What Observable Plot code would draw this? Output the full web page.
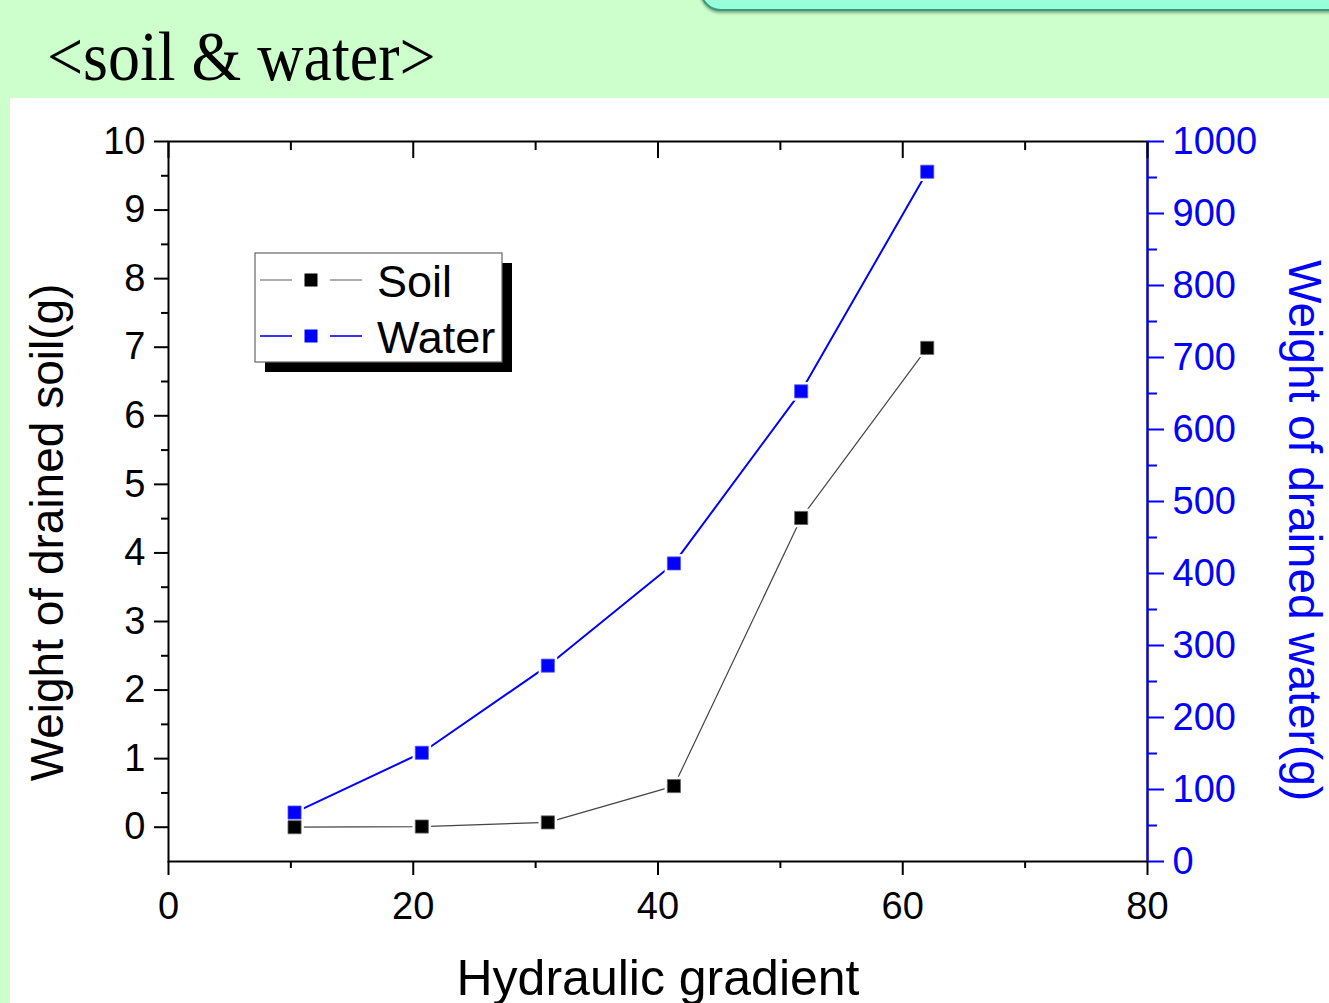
<!DOCTYPE html>
<html>
<head>
<meta charset="utf-8">
<script src="https://cdn.jsdelivr.net/npm/d3@7"></script>
<script src="https://cdn.jsdelivr.net/npm/@observablehq/plot@0.6"></script>
<style>
  html, body { margin: 0; padding: 0; }
  body { width: 1329px; height: 1003px; overflow: hidden; position: relative; background: #ccffcc; font-family: "Liberation Sans", Arial, sans-serif; }
  #tab { position: absolute; left: 700px; top: -30px; width: 660px; height: 37px; background: #99ffd9; border: 2px solid #2f9f80; border-radius: 24px; box-shadow: 0 2px 3px rgba(0,0,0,0.35); }
  #title { position: absolute; left: 47px; top: 28px; font-family: "Liberation Serif", "Times New Roman", serif; font-size: 64px; line-height: 64px; color: #000; white-space: nowrap; transform: scaleY(1.08); transform-origin: left bottom; }
  #panel { position: absolute; left: 10px; top: 98px; width: 1319px; height: 905px; background: #fff; }
  #legend { position: absolute; left: 0; top: 0; }
</style>
</head>
<body>
<div id="tab"></div>
<div id="title">&lt;soil &amp; water&gt;</div>
<div id="panel"></div>
<svg id="legend" width="600" height="420"></svg>
<script>
// ---- data ----
const gradient = [10.3, 20.7, 31.0, 41.3, 51.7, 62.0];
const soilWeight = [0.0, 0.01, 0.07, 0.6, 4.51, 6.99];
const waterWeight = [68, 151, 272, 414, 653, 958];

const seriesNames = ["Soil", "Water"];
const seriesColors = ["#000000", "#0000ff"];
const lineColors = ["#444444", "#0000ff"];

const xTicksMajor = [0, 20, 40, 60, 80];
const xTicksMinor = [10, 30, 50, 70];
const soilTicksMajor = [0, 1, 2, 3, 4, 5, 6, 7, 8, 9, 10];
const soilTicksMinor = [0.5, 1.5, 2.5, 3.5, 4.5, 5.5, 6.5, 7.5, 8.5, 9.5];
const waterTicksMajor = [0, 100, 200, 300, 400, 500, 600, 700, 800, 900, 1000];
const waterTicksMinor = [50, 150, 250, 350, 450, 550, 650, 750, 850, 950];

const xLabel = "Hydraulic gradient";
const yLeftLabel = "Weight of drained soil(g)";
const yRightLabel = "Weight of drained water(g)";

// ---- build ----
const soilDomain = [-0.5, 10];
const waterDomain = [0, 1000];
// map water values onto the left (soil) scale
const toLeft = d3.scaleLinear().domain(waterDomain).range(soilDomain);

const soilData = gradient.map((g, i) => ({x: g, y: soilWeight[i], series: "Soil"}));
const waterData = gradient.map((g, i) => ({x: g, y: toLeft(waterWeight[i]), series: "Water"}));
const allData = soilData.concat(waterData);

const waterLabelMap = new Map(waterTicksMajor.map(w => [toLeft(w), String(w)]));

const chart = Plot.plot({
  width: 1319,
  height: 905,
  marginLeft: 158,
  marginRight: 182,
  marginTop: 43,
  marginBottom: 142,
  style: {background: "transparent", fontFamily: "'Liberation Sans', Arial, sans-serif", color: "#000", overflow: "visible"},
  x: {domain: [0, 80]},
  y: {domain: soilDomain},
  marks: [
    Plot.frame({stroke: "#000", strokeWidth: 2}),
    Plot.ruleX([80], {stroke: "#0000ff", strokeWidth: 2}),
    // bottom axis
    Plot.axisX({anchor: "bottom", ticks: xTicksMajor, tickSize: 14, tickPadding: 17, fontSize: 38, strokeWidth: 2, label: null, tickFormat: d => String(d)}),
    Plot.axisX({anchor: "bottom", ticks: xTicksMinor, tickSize: 7, strokeWidth: 2, label: null, tickFormat: () => ""}),
    // top axis (inward ticks)
    Plot.axisX({anchor: "top", ticks: xTicksMajor, tickSize: -16, strokeWidth: 2, label: null, tickFormat: () => ""}),
    Plot.axisX({anchor: "top", ticks: xTicksMinor, tickSize: -8, strokeWidth: 2, label: null, tickFormat: () => ""}),
    // left axis
    Plot.axisY({anchor: "left", ticks: soilTicksMajor, tickSize: 14, tickPadding: 9, fontSize: 38, strokeWidth: 2, label: null, tickFormat: d => String(d)}),
    Plot.axisY({anchor: "left", ticks: soilTicksMinor, tickSize: 7, strokeWidth: 2, label: null, tickFormat: () => ""}),
    // right axis (water)
    Plot.axisY({anchor: "right", ticks: waterTicksMajor.map(toLeft), tickSize: 16, tickPadding: 9, fontSize: 38, strokeWidth: 2, color: "#0000ff", label: null, tickFormat: d => waterLabelMap.get(d) ?? ""}),
    Plot.axisY({anchor: "right", ticks: waterTicksMinor.map(toLeft), tickSize: 9, strokeWidth: 2, color: "#0000ff", label: null, tickFormat: () => ""}),
    // axis titles
    Plot.text([yLeftLabel], {frameAnchor: "left", rotate: -90, dx: -120, dy: 31, fontSize: 46, fill: "#000", textAnchor: "middle", lineAnchor: "middle"}),
    Plot.text([yRightLabel], {frameAnchor: "right", rotate: 90, dx: 156, dy: 29, fontSize: 46, fill: "#0000ff", textAnchor: "middle", lineAnchor: "middle"}),
    Plot.text([xLabel], {frameAnchor: "bottom", dy: 117, fontSize: 50, fill: "#000", textAnchor: "middle", lineAnchor: "middle"}),
    // lines
    Plot.line(soilData, {x: "x", y: "y", stroke: lineColors[0], strokeWidth: 1.2}),
    Plot.line(waterData, {x: "x", y: "y", stroke: lineColors[1], strokeWidth: 2}),
    // white halos to create the gap between markers and lines
    Plot.dot(allData, {x: "x", y: "y", symbol: "square", r: 10.5, fill: "#fff", stroke: "none"}),
    // markers
    Plot.dot(soilData, {x: "x", y: "y", symbol: "square", r: 7.4, fill: seriesColors[0], stroke: "#666", strokeWidth: 0.8}),
    Plot.dot(waterData, {x: "x", y: "y", symbol: "square", r: 7.4, fill: seriesColors[1], stroke: "#5555ff", strokeWidth: 0.8})
  ]
});
document.getElementById("panel").appendChild(chart);

// ---- legend (page coordinates) ----
const lg = d3.select("#legend");
const box = {x: 255, y: 253, w: 247, h: 109};
lg.append("rect").attr("x", box.x + 10).attr("y", box.y + 10).attr("width", box.w).attr("height", box.h).attr("fill", "#000");
lg.append("rect").attr("x", box.x).attr("y", box.y).attr("width", box.w).attr("height", box.h).attr("fill", "#fff").attr("stroke", "#666").attr("stroke-width", 1.2);
seriesNames.forEach((name, i) => {
  const cy = 280 + i * 56;
  const g = lg.append("g");
  g.append("line").attr("x1", 260).attr("x2", 292).attr("y1", cy).attr("y2", cy).attr("stroke", i === 0 ? "#777" : lineColors[i]).attr("stroke-width", i === 0 ? 1.2 : 1.6);
  g.append("line").attr("x1", 330).attr("x2", 362).attr("y1", cy).attr("y2", cy).attr("stroke", i === 0 ? "#777" : lineColors[i]).attr("stroke-width", i === 0 ? 1.2 : 1.6);
  g.append("rect").attr("x", 311 - 6.5).attr("y", cy - 6.5).attr("width", 13).attr("height", 13).attr("fill", seriesColors[i]);
  g.append("text").attr("x", 377).attr("y", cy + 17).attr("font-size", 45).attr("font-family", "'Liberation Sans', Arial, sans-serif").attr("fill", "#000").text(name);
});
</script>
</body>
</html>
